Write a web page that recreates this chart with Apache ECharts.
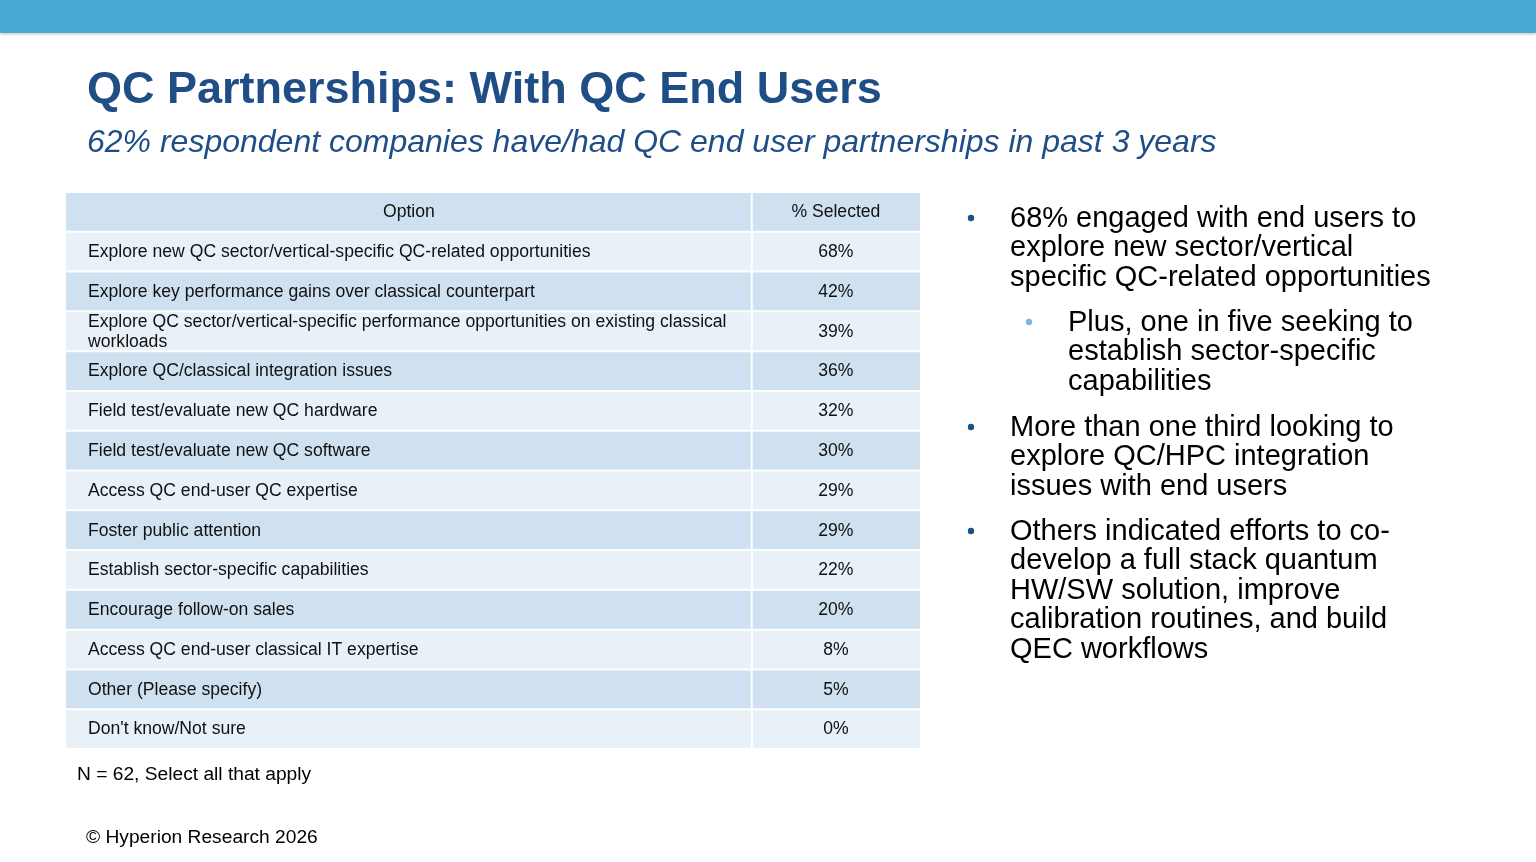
<!DOCTYPE html>
<html>
<head>
<meta charset="utf-8">
<title>QC Partnerships: With QC End Users</title>
<script src="https://cdn.jsdelivr.net/npm/echarts@6/dist/echarts.min.js"></script>
<style>
  html, body { margin: 0; padding: 0; background: #fff; }
  #chart { width: 1536px; height: 862px; }
</style>
</head>
<body>
<div id="chart"></div>
<script>
var FONT = '"Liberation Sans", Arial, Helvetica, sans-serif';

var headers = ['Option', '% Selected'];
var options = [
  'Explore new QC sector/vertical-specific QC-related opportunities',
  'Explore key performance gains over classical counterpart',
  'Explore QC sector/vertical-specific performance opportunities on existing classical workloads',
  'Explore QC/classical integration issues',
  'Field test/evaluate new QC hardware',
  'Field test/evaluate new QC software',
  'Access QC end-user QC expertise',
  'Foster public attention',
  'Establish sector-specific capabilities',
  'Encourage follow-on sales',
  'Access QC end-user classical IT expertise',
  'Other (Please specify)',
  "Don't know/Not sure"
];
var pctSelected = [68, 42, 39, 36, 32, 30, 29, 29, 22, 20, 8, 5, 0];

var bullets = [
  '68% engaged with end users to\nexplore new sector/vertical\nspecific QC-related opportunities',
  'More than one third looking to\nexplore QC/HPC integration\nissues with end users',
  'Others indicated efforts to co-\ndevelop a full stack quantum\nHW/SW solution, improve\ncalibration routines, and build\nQEC workflows'
];
var subBullet = 'Plus, one in five seeking to\nestablish sector-specific\ncapabilities';

// rows: header is row 0, options follow
var rowNames = ['header'].concat(options);
var rowData = rowNames.map(function(name, i) {
  return [i, i === 0 ? null : pctSelected[i - 1]];
});

var splitAt = 0.803; // first column share of table width

function renderRow(params, api) {
  var idx = api.value(0);
  var left = api.coord([0, idx]);
  var right = api.coord([1, idx]);
  var bandH = api.size([0, 1])[1];
  var top = left[1] - bandH / 2;
  var split = left[0] + (right[0] - left[0]) * splitAt;
  var fill = idx % 2 === 0 ? '#cfe1f0' : '#e8f0f8';
  var isHead = idx === 0;
  var leftText = isHead ? headers[0] : options[idx - 1];
  var rightText = isHead ? headers[1] : api.value(1) + '%';
  return {
    type: 'group',
    children: [
      { type: 'rect', shape: { x: left[0], y: top + 1, width: split - left[0] - 1, height: bandH - 2 }, style: { fill: fill } },
      { type: 'rect', shape: { x: split + 1, y: top + 1, width: right[0] - split - 1, height: bandH - 2 }, style: { fill: fill } },
      {
        type: 'text',
        style: {
          x: isHead ? (left[0] + split) / 2 : left[0] + 22,
          y: left[1] + 0.5,
          text: leftText,
          fill: '#111',
          font: '17.6px ' + FONT,
          textAlign: isHead ? 'center' : 'left',
          textVerticalAlign: 'middle',
          width: 655,
          overflow: 'break',
          lineHeight: 20
        }
      },
      {
        type: 'text',
        style: {
          x: (split + right[0]) / 2,
          y: left[1] + 0.5,
          text: rightText,
          fill: '#111',
          font: '17.6px ' + FONT,
          textAlign: 'center',
          textVerticalAlign: 'middle'
        }
      }
    ]
  };
}

var chart = echarts.init(document.getElementById('chart'));

var bulletTops = [204, 413, 517];
var graphics = [
  {
    type: 'rect',
    shape: { x: 0, y: 0, width: 1536, height: 33 },
    style: { fill: '#4aa9d6', shadowBlur: 3, shadowColor: 'rgba(0,0,0,0.25)', shadowOffsetY: 1 }
  }
];
bullets.forEach(function(txt, i) {
  graphics.push({
    type: 'circle',
    shape: { cx: 971, cy: bulletTops[i] + 14, r: 3.2 },
    style: { fill: '#1f4e87' }
  });
  graphics.push({
    type: 'text',
    style: {
      x: 1010, y: bulletTops[i], text: txt, fill: '#000',
      font: '29px ' + FONT, lineHeight: 29.5, textVerticalAlign: 'top'
    }
  });
});
graphics.push({
  type: 'circle',
  shape: { cx: 1029, cy: 322, r: 3.2 },
  style: { fill: '#7db4e0' }
});
graphics.push({
  type: 'text',
  style: {
    x: 1068, y: 308, text: subBullet, fill: '#000',
    font: '29px ' + FONT, lineHeight: 29.5, textVerticalAlign: 'top'
  }
});

var option = {
  backgroundColor: '#fff',
  animation: false,
  title: [
    {
      text: 'QC Partnerships: With QC End Users',
      left: 87, top: 65, padding: 0,
      textStyle: { color: '#1f4e87', fontSize: 45, fontWeight: 'bold', fontFamily: FONT, lineHeight: 52 }
    },
    {
      text: '62% respondent companies have/had QC end user partnerships in past 3 years',
      left: 87, top: 125, padding: 0,
      textStyle: { color: '#1f4e87', fontSize: 32, fontStyle: 'italic', fontWeight: 'normal', fontFamily: FONT, lineHeight: 36 }
    },
    {
      text: 'N = 62, Select all that apply',
      left: 77, top: 764, padding: 0,
      textStyle: { color: '#000', fontSize: 19.2, fontWeight: 'normal', fontFamily: FONT, lineHeight: 22 }
    },
    {
      text: '\u00a9 Hyperion Research 2026',
      left: 86, top: 827, padding: 0,
      textStyle: { color: '#000', fontSize: 19.2, fontWeight: 'normal', fontFamily: FONT, lineHeight: 22 }
    }
  ],
  grid: { left: 66, top: 192, width: 854, height: 557 },
  xAxis: { type: 'value', min: 0, max: 1, show: false },
  yAxis: { type: 'category', data: rowNames, inverse: true, show: false },
  series: [
    {
      type: 'custom',
      renderItem: renderRow,
      data: rowData,
      encode: { x: -1, y: 0 },
      silent: true
    }
  ],
  graphic: graphics
};

chart.setOption(option);
</script>
</body>
</html>
